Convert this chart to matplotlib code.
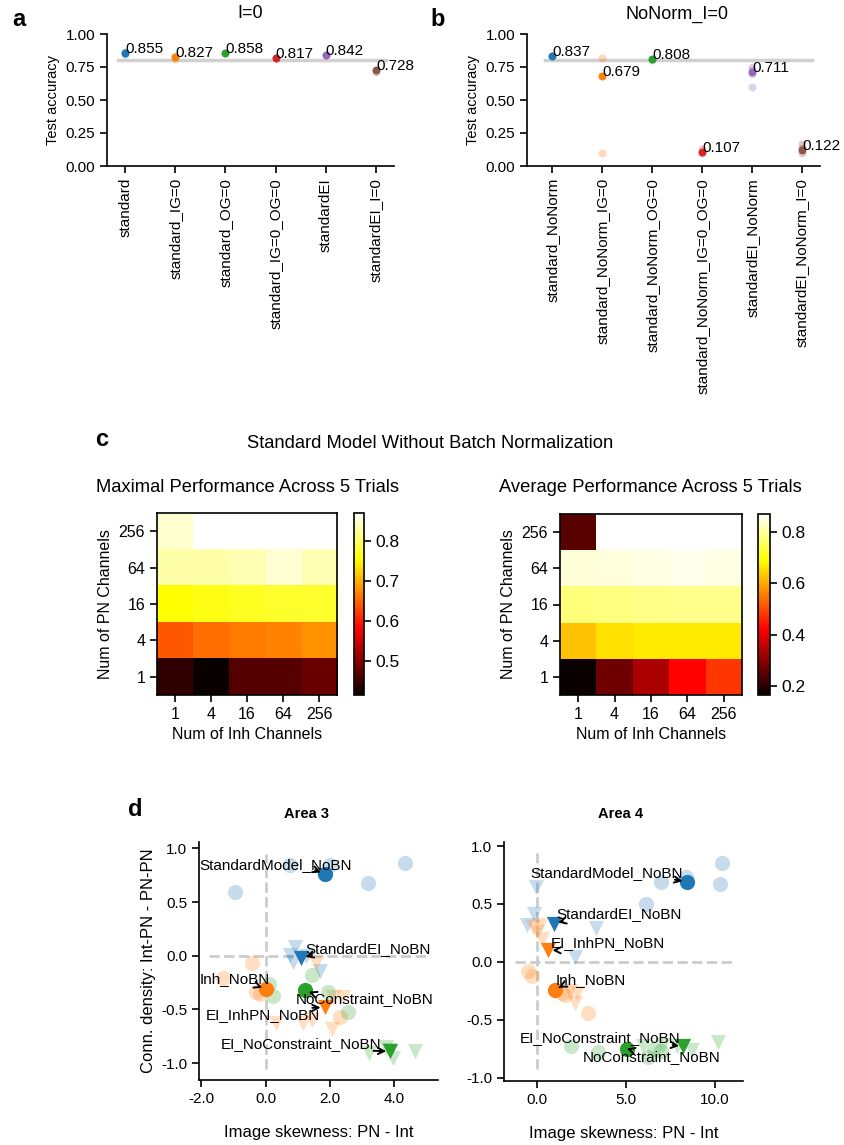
import numpy as np
import matplotlib
matplotlib.use('Agg')
import matplotlib.pyplot as plt

plt.rcParams['font.family'] = ['Liberation Sans', 'DejaVu Sans']
plt.rcParams['axes.linewidth'] = 1.2
plt.rcParams['xtick.major.width'] = 1.2
plt.rcParams['ytick.major.width'] = 1.2
plt.rcParams['xtick.major.size'] = 5
plt.rcParams['ytick.major.size'] = 5

# ---- data: test accuracy per model (a, b) ----
models_a = ['standard', 'standard_IG=0', 'standard_OG=0', 'standard_IG=0_OG=0',
            'standardEI', 'standardEI_I=0']
acc_a = [0.855, 0.827, 0.858, 0.817, 0.842, 0.728]
trials_a = [[0.855, 0.85, 0.86], [0.81, 0.83], [0.858, 0.855], [0.815, 0.82],
            [0.842, 0.84], [0.715, 0.73]]

models_b = ['standard_NoNorm', 'standard_NoNorm_IG=0', 'standard_NoNorm_OG=0',
            'standard_NoNorm_IG=0_OG=0', 'standardEI_NoNorm', 'standardEI_NoNorm_I=0']
acc_b = [0.837, 0.679, 0.808, 0.107, 0.711, 0.122]
trials_b = [[0.837, 0.835], [0.82, 0.10, 0.68], [0.808, 0.805], [0.13, 0.10],
            [0.75, 0.70, 0.60, 0.73], [0.17, 0.10, 0.13, 0.14]]
ref_acc = 0.8

# ---- data: channel sweep (c), rows = PN channels 1..256, cols = Inh channels 1..256 ----
n_channels = [1, 4, 16, 64, 256]
max_perf = [
    [0.44, 0.415, 0.465, 0.465, 0.48],
    [0.64, 0.655, 0.665, 0.67, 0.68],
    [0.755, 0.765, 0.77, 0.775, 0.775],
    [0.83, 0.83, 0.835, 0.85, 0.835],
    [0.847, 0.87, 0.87, 0.87, 0.87],
]
avg_perf = [
    [0.165, 0.27, 0.335, 0.425, 0.48],
    [0.625, 0.66, 0.67, 0.67, 0.67],
    [0.775, 0.78, 0.785, 0.79, 0.79],
    [0.84, 0.845, 0.85, 0.855, 0.85],
    [0.25, 0.87, 0.87, 0.87, 0.87],
]

# ---- data: skewness vs connection density (d) ----
groups = ['StandardModel_NoBN', 'StandardEI_NoBN', 'Inh_NoBN', 'EI_InhPN_NoBN',
          'NoConstraint_NoBN', 'EI_NoConstraint_NoBN']
group_marker = ['o', 'v', 'o', 'v', 'o', 'v']
group_color = ['tab:blue', 'tab:blue', 'tab:orange', 'tab:orange', 'tab:green', 'tab:green']

a3_mean_x = [1.84, 1.11, 0.02, 1.84, 1.22, 3.88]
a3_mean_y = [0.76, -0.02, -0.31, -0.48, -0.32, -0.89]
a3_trial_x = [[0.75, 3.17, 4.34, -0.94, 2.0],
              [0.9, 0.75, 0.85, 1.7, 1.25],
              [-0.43, -1.31, -0.29, 2.31, -0.18],
              [1.58, 2.1, 2.42, 0.33, 1.17, 1.43, 2.05],
              [1.43, 0.12, 0.23, 1.95, 2.57],
              [3.2, 3.95, 4.65, 3.75, 3.85]]
a3_trial_y = [[0.85, 0.68, 0.86, 0.59, 0.85],
              [0.08, 0.01, -0.06, -0.14, 0.0],
              [-0.07, -0.21, -0.34, -0.57, -0.36],
              [-0.07, -0.38, -0.38, -0.63, -0.63, -0.60, -0.68],
              [-0.18, -0.26, -0.37, -0.34, -0.52],
              [-0.91, -0.95, -0.89, -0.85, -0.88]]
a3_label_xy = [(-2.06, 0.85), (1.25, 0.06), (-2.06, -0.22), (-1.85, -0.55),
               (0.94, -0.40), (-1.39, -0.82)]
a3_arrow_from = [(0.76, 0.1), (0.05, 0.1), (0.85, 0.0), (0.93, 1.0), (0.12, 0.9), (0.95, 0.0)]

a4_mean_x = [8.41, 0.97, 1.03, 0.65, 5.05, 8.22]
a4_mean_y = [0.69, 0.33, -0.24, 0.10, -0.75, -0.73]
a4_trial_x = [[10.37, 10.28, 6.97, 6.13, 8.4],
              [-0.04, -0.15, -0.56, 3.31, 2.15],
              [-0.47, -0.28, 1.4, 2.9, 1.6],
              [-0.19, 0.19, 0.0, 0.28, 2.24, 2.15, 1.87],
              [1.91, 3.46, 6.26, 6.6, 7.0],
              [10.19, 8.69, 7.1, 7.85, 5.98]]
a4_trial_y = [[0.85, 0.67, 0.69, 0.50, 0.73],
              [0.65, 0.41, 0.32, 0.29, 0.04],
              [-0.08, -0.12, -0.27, -0.44, -0.29],
              [0.30, 0.32, 0.26, 0.20, -0.27, -0.36, -0.25],
              [-0.73, -0.78, -0.82, -0.75, -0.77],
              [-0.69, -0.76, -0.72, -0.73, -0.73]]
a4_label_xy = [(-0.37, 0.77), (1.12, 0.41), (1.08, -0.16), (0.79, 0.16),
               (2.56, -0.82), (-0.93, -0.66)]
a4_arrow_from = [(0.95, 0.0), (0.05, 0.0), (0.05, 0.0), (0.05, 0.0), (0.35, 1.0), (0.95, 0.0)]

W, H = 844, 1145
fig = plt.figure(figsize=(W / 100, H / 100), dpi=100)


def add_ax(l, t, r, b):
    return fig.add_axes([l / W, 1 - b / H, (r - l) / W, (b - t) / H])


def ftext(x, y, s, **kw):
    fig.text(x / W, 1 - y / H, s, **kw)


def acc_panel(ax, models, acc, trials, xlim):
    colors = plt.rcParams['axes.prop_cycle'].by_key()['color']
    ax.plot([-0.15, 5.2], [ref_acc, ref_acc], color='#d0d0d0', lw=2.5, zorder=0)
    for i in range(len(models)):
        ax.scatter([i] * len(trials[i]), trials[i], s=32, color=colors[i], alpha=0.3, lw=0)
        ax.scatter(i, acc[i], s=32, color=colors[i], lw=0)
        ax.text(i, acc[i], '%.3f' % acc[i], fontsize=11)
    ax.set_xticks(range(len(models)))
    ax.set_xticklabels(models, rotation=90, fontsize=11)
    ax.set_xlim(*xlim)
    ax.set_ylim(0, 1.0)
    ax.set_yticks([0, 0.25, 0.5, 0.75, 1.0])
    ax.set_yticklabels(['0.00', '0.25', '0.50', '0.75', '1.00'], fontsize=11)
    ax.set_ylabel('Test accuracy', fontsize=10.5)
    ax.spines['top'].set_visible(False)
    ax.spines['right'].set_visible(False)


ax_a = add_ax(107, 34, 394, 166)
acc_panel(ax_a, models_a, acc_a, trials_a, (-0.36, 5.36))
ax_b = add_ax(527, 34, 820, 166)
acc_panel(ax_b, models_b, acc_b, trials_b, (-0.51, 5.36))

ftext(19, 20, 'a', fontsize=17, fontweight='bold', ha='center', va='center')
ftext(438, 20, 'b', fontsize=17, fontweight='bold', ha='center', va='center')
ftext(250, 14, 'I=0', fontsize=13, ha='center', va='center')
ftext(677, 14, 'NoNorm_I=0', fontsize=13, ha='center', va='center')


def heat_panel(hm_box, cb_box, data, cticks):
    ax = add_ax(*hm_box)
    cax = add_ax(*cb_box)
    im = ax.imshow(np.array(data), cmap='hot', origin='lower', aspect='auto')
    ax.set_xticks(range(len(n_channels)))
    ax.set_xticklabels(n_channels, fontsize=11.5)
    ax.set_yticks(range(len(n_channels)))
    ax.set_yticklabels(n_channels, fontsize=11.5)
    ax.set_xlabel('Num of Inh Channels', fontsize=11.5)
    ax.set_ylabel('Num of PN Channels', fontsize=11.5)
    cb = fig.colorbar(im, cax=cax)
    cb.set_ticks(cticks)
    cb.ax.tick_params(labelsize=12.5)
    return ax


heat_panel((157, 513, 337, 695), (354, 513, 364, 695), max_perf, [0.5, 0.6, 0.7, 0.8])
heat_panel((560, 514, 742, 695), (758, 514, 770, 695), avg_perf, [0.2, 0.4, 0.6, 0.8])

ftext(102, 440, 'c', fontsize=17, fontweight='bold', ha='center', va='center')
ftext(430, 443, 'Standard Model Without Batch Normalization', fontsize=13.2,
      ha='center', va='center')
ftext(248, 487, 'Maximal Performance Across 5 Trials', fontsize=13.2, ha='center', va='center')
ftext(650, 487, 'Average Performance Across 5 Trials', fontsize=13.2, ha='center', va='center')


def skew_panel(ax, mean_x, mean_y, trial_x, trial_y, label_xy, arrow_from,
               xlim, ylim, xticks, hline, vline):
    ax.plot(hline, [0, 0], color='#cccccc', lw=2, ls='--', zorder=0)
    ax.plot([0, 0], vline, color='#cccccc', lw=2, ls='--', zorder=0)
    for g in range(len(groups)):
        ax.scatter(trial_x[g], trial_y[g], s=120, marker=group_marker[g],
                   color=group_color[g], alpha=0.25, lw=0, zorder=1)
    for g in range(len(groups)):
        ax.scatter(mean_x[g], mean_y[g], s=120, marker=group_marker[g],
                   color=group_color[g], lw=0, zorder=2)
        ax.annotate(groups[g], xy=(mean_x[g], mean_y[g]), xytext=label_xy[g],
                    ha='left', va='center', fontsize=11, zorder=3,
                    arrowprops=dict(arrowstyle='->', color='k', lw=1.4,
                                    relpos=arrow_from[g], patchA=None,
                                    shrinkA=0, shrinkB=3))
    ax.set_xlim(*xlim)
    ax.set_ylim(*ylim)
    ax.set_xticks(xticks)
    ax.set_xticklabels(['%.1f' % v for v in xticks], fontsize=11)
    ax.set_yticks([-1.0, -0.5, 0.0, 0.5, 1.0])
    ax.set_yticklabels(['-1.0', '-0.5', '0.0', '0.5', '1.0'], fontsize=11)
    ax.set_xlabel('Image skewness: PN - Int', fontsize=12, labelpad=14)
    ax.spines['top'].set_visible(False)
    ax.spines['right'].set_visible(False)


ax3 = add_ax(199, 842, 438, 1080)
skew_panel(ax3, a3_mean_x, a3_mean_y, a3_trial_x, a3_trial_y, a3_label_xy, a3_arrow_from,
           (-2.07, 5.36), (-1.157, 1.06), [-2.0, 0.0, 2.0, 4.0], (-1.75, 5.0), (-1.05, 0.95))
ax3.set_ylabel('Conn. density: Int-PN - PN-PN', fontsize=12)

ax4 = add_ax(504, 842, 743, 1081)
skew_panel(ax4, a4_mean_x, a4_mean_y, a4_trial_x, a4_trial_y, a4_label_xy, a4_arrow_from,
           (-1.83, 11.57), (-1.03, 1.035), [0.0, 5.0, 10.0], (-1.2, 11.0), (-0.93, 0.94))

ftext(135, 810, 'd', fontsize=17, fontweight='bold', ha='center', va='center')
ftext(307, 814, 'Area 3', fontsize=10.5, fontweight='bold', ha='center', va='center')
ftext(621, 814, 'Area 4', fontsize=10.5, fontweight='bold', ha='center', va='center')

fig.savefig('out.png', dpi=100)
